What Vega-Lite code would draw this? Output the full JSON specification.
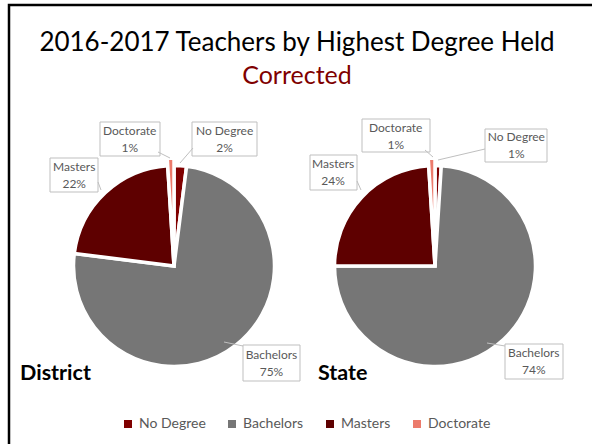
{
  "$schema": "https://vega.github.io/schema/vega-lite/v6.json",
  "width": 600,
  "height": 450,
  "autosize": {"type": "none"},
  "padding": {"left": 9, "top": 5, "right": -17, "bottom": -11},
  "background": "white",
  "config": {
    "font": "Lato",
    "view": {"stroke": "black", "strokeWidth": 2.5}
  },
  "title": {
    "text": "2016-2017 Teachers by Highest Degree Held",
    "subtitle": "Corrected",
    "font": "Lato",
    "fontSize": 26,
    "fontWeight": "normal",
    "color": "black",
    "subtitleFont": "Lato",
    "subtitleFontSize": 25,
    "subtitleColor": "#7F0000",
    "subtitlePadding": 8,
    "anchor": "middle",
    "frame": "group",
    "offset": -84,
    "dx": -12
  },
  "data": {
    "values": [
      {"region": "District", "category": "No Degree", "share": 0.02, "order": 1},
      {"region": "District", "category": "Bachelors", "share": 0.75, "order": 2},
      {"region": "District", "category": "Masters", "share": 0.22, "order": 3},
      {"region": "District", "category": "Doctorate", "share": 0.01, "order": 4},
      {"region": "State", "category": "No Degree", "share": 0.01, "order": 1},
      {"region": "State", "category": "Bachelors", "share": 0.74, "order": 2},
      {"region": "State", "category": "Masters", "share": 0.24, "order": 3},
      {"region": "State", "category": "Doctorate", "share": 0.01, "order": 4}
    ]
  },
  "encoding": {
    "x": {"field": "region", "type": "nominal", "axis": null,
          "scale": {"type": "point", "domain": ["District", "State"], "range": [165, 426], "padding": 0}},
    "y": {"field": "region", "type": "nominal", "axis": null,
          "scale": {"type": "point", "domain": ["District", "State"], "range": [261, 261], "padding": 0}}
  },
  "layer": [
    {
      "transform": [{"filter": "datum.region === 'District'"}],
      "layer": [
        {
          "mark": {"type": "arc", "stroke": "white", "strokeWidth": 3.5,
                   "outerRadius": {"expr": "datum.category === 'Doctorate' ? 108 : 100.5"}},
          "encoding": {
            "theta": {"field": "share", "type": "quantitative", "stack": true, "scale": {"domain": [0, 1]}},
            "order": {"field": "order", "type": "quantitative"},
            "color": {"field": "category", "type": "nominal",
                      "scale": {"domain": ["No Degree", "Bachelors", "Masters", "Doctorate"],
                                "range": ["#800000", "#767676", "#5E0000", "#EC7B6C"]},
                      "legend": {"orient": "none", "legendX": 112, "legendY": 412, "direction": "horizontal",
                                 "title": null, "symbolType": "square", "symbolSize": 64, "symbolStrokeWidth": 0,
                                 "labelFontSize": 14, "labelColor": "#595959", "columnPadding": 19, "labelOffset": 4}}
          }
        },
        {
          "mark": {"type": "point", "size": 4, "filled": true, "fill": "white", "opacity": 1,
                   "stroke": "#BFBFBF", "strokeWidth": 1,
                   "shape": {"expr": "datum.category === 'No Degree' ? 'M18,-144H83V-110H18ZM19,-118L6,-103' : datum.category === 'Doctorate' ? 'M-74,-144H-14V-110H-74ZM-16,-114L-4,-108' : datum.category === 'Masters' ? 'M-124,-108H-76V-74H-124ZM-76,-84L-73,-76' : 'M69,79H126V115H69ZM69,80L50,76'"}}
        },
        {
          "mark": {"type": "text", "radius": 137, "fontSize": 12, "color": "#595959", "baseline": "middle",
                   "dx": {"expr": "datum.category === 'No Degree' ? 42 : datum.category === 'Doctorate' ? -40 : datum.category === 'Masters' ? -6 : 13.5"},
                   "dy": {"expr": "(datum.category === 'No Degree' ? 10 : datum.category === 'Doctorate' ? 10 : datum.category === 'Masters' ? 9 : -11) - 8.5"}},
          "encoding": {
            "theta": {"field": "share", "type": "quantitative", "stack": true},
            "order": {"field": "order", "type": "quantitative"},
            "text": {"field": "category", "type": "nominal"}
          }
        },
        {
          "mark": {"type": "text", "radius": 137, "fontSize": 12, "color": "#595959", "baseline": "middle",
                   "dx": {"expr": "datum.category === 'No Degree' ? 42 : datum.category === 'Doctorate' ? -40 : datum.category === 'Masters' ? -6 : 13.5"},
                   "dy": {"expr": "(datum.category === 'No Degree' ? 10 : datum.category === 'Doctorate' ? 10 : datum.category === 'Masters' ? 9 : -11) + 8.5"}},
          "encoding": {
            "theta": {"field": "share", "type": "quantitative", "stack": true},
            "order": {"field": "order", "type": "quantitative"},
            "text": {"field": "share", "type": "quantitative", "format": ".0%"}
          }
        },
        {
          "transform": [{"filter": "datum.category === 'Bachelors'"}],
          "mark": {"type": "text", "align": "left", "baseline": "alphabetic", "fontSize": 21.5, "fontWeight": "bold",
                   "color": "black", "dx": -154, "dy": 114},
          "encoding": {"text": {"field": "region", "type": "nominal"}}
        }
      ]
    },
    {
      "transform": [{"filter": "datum.region === 'State'"}],
      "layer": [
        {
          "mark": {"type": "arc", "stroke": "white", "strokeWidth": 3.5,
                   "outerRadius": {"expr": "datum.category === 'Doctorate' ? 108 : 100.5"}},
          "encoding": {
            "theta": {"field": "share", "type": "quantitative", "stack": true, "scale": {"domain": [0, 1]}},
            "order": {"field": "order", "type": "quantitative"},
            "color": {"field": "category", "type": "nominal"}
          }
        },
        {
          "mark": {"type": "point", "size": 4, "filled": true, "fill": "white", "opacity": 1,
                   "stroke": "#BFBFBF", "strokeWidth": 1,
                   "shape": {"expr": "datum.category === 'No Degree' ? 'M50,-137H112V-104H50ZM50,-117L3,-106' : datum.category === 'Doctorate' ? 'M-73,-147H-5V-114H-73ZM-10,-116L-2,-109' : datum.category === 'Masters' ? 'M-125,-111H-78V-76H-125ZM-78,-85L-74,-76' : 'M70,78H128V113H70ZM70,80L52,77'"}}
        },
        {
          "mark": {"type": "text", "radius": 137, "fontSize": 12, "color": "#595959", "baseline": "middle",
                   "dx": {"expr": "datum.category === 'No Degree' ? 77 : datum.category === 'Doctorate' ? -35 : datum.category === 'Masters' ? -2 : 5"},
                   "dy": {"expr": "(datum.category === 'No Degree' ? 16 : datum.category === 'Doctorate' ? 7 : datum.category === 'Masters' ? 0 : -4) - 8.5"}},
          "encoding": {
            "theta": {"field": "share", "type": "quantitative", "stack": true},
            "order": {"field": "order", "type": "quantitative"},
            "text": {"field": "category", "type": "nominal"}
          }
        },
        {
          "mark": {"type": "text", "radius": 137, "fontSize": 12, "color": "#595959", "baseline": "middle",
                   "dx": {"expr": "datum.category === 'No Degree' ? 77 : datum.category === 'Doctorate' ? -35 : datum.category === 'Masters' ? -2 : 5"},
                   "dy": {"expr": "(datum.category === 'No Degree' ? 16 : datum.category === 'Doctorate' ? 7 : datum.category === 'Masters' ? 0 : -4) + 8.5"}},
          "encoding": {
            "theta": {"field": "share", "type": "quantitative", "stack": true},
            "order": {"field": "order", "type": "quantitative"},
            "text": {"field": "share", "type": "quantitative", "format": ".0%"}
          }
        },
        {
          "transform": [{"filter": "datum.category === 'Bachelors'"}],
          "mark": {"type": "text", "align": "left", "baseline": "alphabetic", "fontSize": 21.5, "fontWeight": "bold",
                   "color": "black", "dx": -117, "dy": 114},
          "encoding": {"text": {"field": "region", "type": "nominal"}}
        }
      ]
    }
  ]
}
